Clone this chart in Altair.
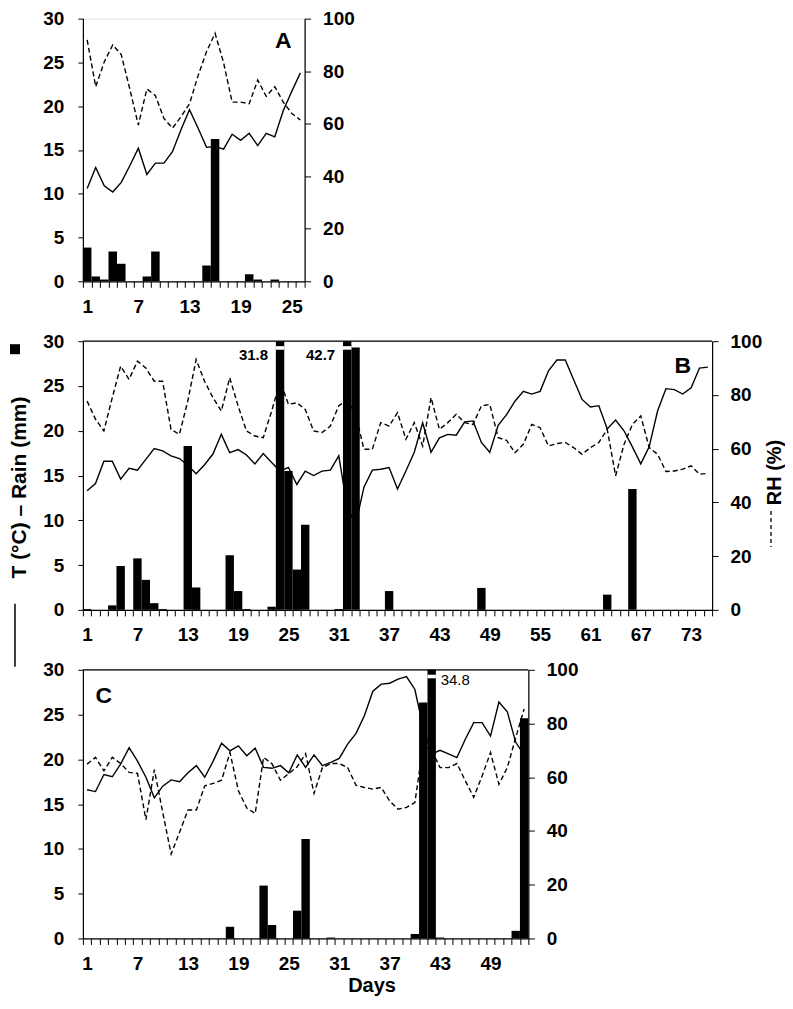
import altair as alt
import pandas as pd

FONT = "Liberation Sans"

# ---------------- Panel A (26 days) ----------------
A_days = list(range(1, 27))
A_temp = [10.6, 13.0, 10.9, 10.2, 11.3, 13.2, 15.2, 12.2, 13.5, 13.5, 14.8, 17.3, 19.6,
          17.5, 15.3, 15.4, 15.1, 16.8, 16.1, 16.9, 15.5, 16.9, 16.5, 19.5, 21.7, 23.8]
A_rh = [91.9, 74.1, 83.5, 90.0, 86.3, 73.2, 59.5, 73.2, 70.7, 62.0, 58.3, 62.6, 67.6,
        78.2, 87.5, 94.4, 83.2, 68.2, 68.2, 67.6, 76.6, 70.4, 74.1, 68.2, 63.9, 61.4]
A_rain = [3.85, 0.55, 0.2, 3.4, 2.0, 0, 0, 0.55, 3.4, 0, 0, 0, 0,
          0, 1.8, 16.25, 0, 0, 0, 0.8, 0.2, 0, 0.2, 0, 0, 0]

# ---------------- Panel B (75 days) ----------------
B_days = list(range(1, 76))
B_temp = [13.3, 14.1, 16.6, 16.6, 14.6, 15.8, 15.6, 16.8, 18.0, 17.75, 17.2, 16.9, 16.15,
          15.2, 16.2, 17.4, 19.6, 17.55, 17.9, 17.3, 16.3, 17.45, 16.45, 15.5, 15.9, 14.0,
          15.5, 15.0, 15.5, 15.6, 17.2, 11.5, 9.5, 13.7, 15.6, 15.7, 15.9, 13.5, 15.5,
          17.6, 20.9, 17.6, 19.2, 19.6, 19.5, 21.0, 21.1, 18.7, 17.6, 20.6, 21.8, 23.3,
          24.4, 24.1, 24.4, 26.7, 27.9, 27.9, 25.7, 23.5, 22.65, 22.8, 20.2, 21.2, 20.0,
          18.2, 16.3, 18.2, 22.2, 24.7, 24.6, 24.1, 24.8, 27.0, 27.1]
B_rh = [77.7, 71.0, 66.6, 79.0, 90.7, 85.8, 92.6, 90.0, 85.1, 85.1, 67.2, 65.3, 77.7,
        93.2, 85.1, 79.0, 74.0, 86.4, 75.9, 66.6, 64.7, 64.1, 74.0, 85.1, 76.5, 77.1,
        74.6, 66.6, 66.0, 68.4, 76.0, 78.0, 72.8, 59.8, 59.8, 69.7, 68.4, 73.4, 63.5,
        69.7, 61.0, 79.0, 67.2, 69.7, 72.8, 69.7, 69.0, 75.9, 76.5, 64.1, 63.1, 58.5,
        61.6, 69.0, 67.8, 61.0, 61.9, 62.3, 60.4, 57.9, 60.4, 62.3, 67.2, 49.9, 61.6,
        69.0, 72.2, 60.4, 57.9, 51.5, 51.7, 52.4, 53.6, 50.5, 50.8]
B_rain = [0.1, 0, 0, 0.5, 4.9, 0, 5.75, 3.35, 0.75, 0.1, 0, 0, 18.3,
          2.5, 0, 0, 0, 6.1, 2.1, 0.1, 0, 0, 0.35, 31.8, 15.5, 4.5,
          9.5, 0, 0, 0, 0.1, 42.7, 29.3, 0, 0, 0, 2.1, 0, 0,
          0, 0, 0, 0, 0, 0, 0, 0, 2.45, 0, 0, 0, 0,
          0, 0, 0, 0, 0, 0, 0, 0, 0, 0, 1.7, 0, 0,
          13.5, 0, 0, 0, 0, 0, 0, 0, 0, 0]

# ---------------- Panel C (53 days) ----------------
C_days = list(range(1, 54))
C_temp = [16.6, 16.4, 18.3, 18.05, 19.5, 21.3, 19.8, 18.0, 15.7, 17.0, 17.7, 17.5, 18.5,
          19.3, 18.0, 19.8, 21.8, 20.95, 21.5, 20.4, 21.25, 19.1, 19.0, 19.3, 18.5, 20.5,
          19.1, 20.5, 19.3, 19.65, 20.1, 21.7, 22.9, 24.9, 27.6, 28.4, 28.5, 28.95, 29.25,
          27.8, 23.5, 20.6, 21.0, 20.6, 20.2, 22.25, 24.1, 24.1, 22.6, 26.4, 25.3, 21.9, 20.5]
C_rh = [64.9, 67.4, 62.4, 67.4, 65.1, 61.8, 61.4, 44.2, 62.8, 46.9, 31.4, 39.5, 47.8,
        47.8, 56.8, 57.7, 58.9, 69.2, 55.0, 48.5, 46.5, 67.4, 65.0, 58.9, 61.4, 63.9,
        68.8, 54.0, 63.6, 65.1, 65.1, 63.6, 57.0, 56.2, 55.6, 56.2, 51.2, 48.1, 48.8,
        50.6, 72.0, 70.0, 63.6, 63.6, 65.1, 58.7, 52.5, 60.5, 69.2, 57.4, 63.6, 74.8, 85.4]
C_rain = [0, 0, 0, 0, 0, 0, 0, 0, 0, 0, 0, 0, 0,
          0, 0, 0, 0, 1.3, 0, 0, 0, 5.9, 1.5, 0, 0, 3.1,
          11.1, 0, 0, 0.1, 0, 0, 0, 0, 0, 0, 0, 0, 0,
          0.5, 26.35, 34.8, 0.1, 0, 0, 0, 0, 0, 0, 0, 0, 0.85, 24.6]

# Off-scale rain annotations (day, label)
B_note_days = [24, 32]
B_note_labels = ["31.8", "42.7"]
C_note_days = [42]
C_note_labels = ["34.8"]

# Panel letters (day, height in mm)
PANEL_LETTERS = {"A": (24, 27.4), "B": (72, 27.2), "C": (3, 27.1)}

LEFT_TICKS = [0, 5, 10, 15, 20, 25, 30]
RIGHT_TICKS = [0, 20, 40, 60, 80, 100]

LBL = dict(labelFont=FONT, labelFontSize=19, labelFontWeight="bold", labelColor="black")
TTL = dict(titleFont=FONT, titleFontSize=20, titleFontWeight="bold", titleColor="black")


def make_panel(name, days, temp, rh, rain, w, h, note_days=None, note_labels=None,
               note_y=28.5, note_align="right", note_dx=-12, note_weight="bold",
               top_rule=False, left_title=None, right_title=None, x_title=None):
    df = pd.DataFrame({"day": days, "temp": temp, "rh": rh, "rain": rain})

    xkw = dict(labelExpr="(datum.value - 1) % 6 == 0 ? datum.label : ''",
               labelAngle=0, labelOverlap=False, tickBand="extent", tickSize=6,
               tickColor="black", domainColor="black", domainWidth=1.2,
               labelPadding=10, grid=False, title=None, **LBL)
    if x_title:
        xkw.update(title=x_title, titleX=289, titleY=47, titleAlign="center",
                   titleBaseline="middle", **TTL)
    X = alt.X("day:O", scale=alt.Scale(paddingInner=0, paddingOuter=0),
              axis=alt.Axis(**xkw))

    ylkw = dict(orient="left", values=LEFT_TICKS, tickSize=5, labelPadding=14,
                tickColor="black", domainColor="black", domainWidth=1.2,
                grid=False, title=None, **LBL)
    if left_title:
        ylkw.update(title=left_title, titleAngle=270, titleX=-63, titleY=146,
                    titleAlign="center", titleBaseline="middle",
                    titleFont=FONT, titleFontSize=21, titleFontWeight="bold",
                    titleColor="black")
    YL = alt.Axis(**ylkw)

    yrkw = dict(orient="right", values=RIGHT_TICKS, tickSize=6, labelPadding=12,
                tickColor="black", domainColor="black", domainWidth=1.2,
                grid=False, title=None, **LBL)
    if right_title:
        yrkw.update(title=right_title, titleAngle=270, titleX=62, titleY=131,
                    titleAlign="center", titleBaseline="middle", **TTL)
    YR = alt.Axis(**yrkw)

    ysc = alt.Scale(domain=[0, 30], nice=False, zero=True)
    rsc = alt.Scale(domain=[0, 100], nice=False, zero=True)

    base = alt.Chart(df)
    temp_line = base.mark_line(color="black", strokeWidth=1.4).encode(
        x=X, y=alt.Y("temp:Q", scale=ysc, axis=YL))
    bars = base.transform_calculate(rain_c="min(datum.rain, 30)").mark_bar(
        color="black").encode(x=X, y=alt.Y("rain_c:Q", scale=ysc, axis=YL))

    lx, ly = PANEL_LETTERS[name]
    letter = alt.Chart(pd.DataFrame({"day": [lx], "y": [ly], "t": [name]})).mark_text(
        font=FONT, fontSize=23, fontWeight="bold", color="black").encode(
        x=X, y=alt.Y("y:Q", scale=ysc, axis=YL), text="t:N")

    left_layers = [temp_line, bars, letter]

    if note_days:
        nd = pd.DataFrame({"day": note_days, "label": note_labels,
                           "lo": [29.05] * len(note_days), "hi": [29.45] * len(note_days),
                           "ty": [note_y] * len(note_days)})
        nbase = alt.Chart(nd)
        breaks = nbase.mark_bar(color="white").encode(
            x=X, y=alt.Y("lo:Q", scale=ysc, axis=YL), y2="hi:Q")
        ntext = nbase.mark_text(font=FONT, fontSize=15, fontWeight=note_weight,
                                align=note_align, dx=note_dx, baseline="middle",
                                color="black").encode(
            x=X, y=alt.Y("ty:Q", scale=ysc, axis=YL), text="label:N")
        left_layers += [breaks, ntext]

    if top_rule:
        left_layers.append(
            alt.Chart(pd.DataFrame({"y": [30]})).mark_rule(color="black", strokeWidth=1.2)
            .encode(y=alt.Y("y:Q", scale=ysc, axis=YL)))

    if left_title:
        sym = alt.Chart(pd.DataFrame({"s": [1]}))
        left_layers.append(sym.mark_square(size=100, color="black", opacity=1).encode(
            x=alt.value(-68), y=alt.value(8)))
        left_layers.append(sym.mark_rule(color="black", strokeWidth=1.5).encode(
            x=alt.value(-68), y=alt.value(263), y2=alt.value(326)))
    if right_title:
        sym = alt.Chart(pd.DataFrame({"s": [1]}))
        left_layers.append(sym.mark_rule(color="black", strokeWidth=1.3,
                                         strokeDash=[4, 3]).encode(
            x=alt.value(w + 59), y=alt.value(170), y2=alt.value(206)))

    rh_line = base.mark_line(color="black", strokeWidth=1.4, strokeDash=[5, 3]).encode(
        x=X, y=alt.Y("rh:Q", scale=rsc, axis=YR))

    return (alt.layer(rh_line, alt.layer(*left_layers))
            .resolve_scale(y="independent")
            .properties(width=w, height=h))


pA = make_panel("A", A_days, A_temp, A_rh, A_rain, 222, 263)
pB = make_panel("B", B_days, B_temp, B_rh, B_rain, 630, 269,
                note_days=B_note_days, note_labels=B_note_labels, note_y=28.5,
                note_align="right", note_dx=-12, top_rule=True,
                left_title="T (°C)  –  Rain (mm)", right_title="RH (%)")
pC = make_panel("C", C_days, C_temp, C_rh, C_rain, 446, 269,
                note_days=C_note_days, note_labels=C_note_labels, note_y=28.9,
                note_align="left", note_dx=9, note_weight="normal", top_rule=True,
                x_title="Days")

chart = (alt.vconcat(pA, pB, pC, spacing=60, bounds="flush")
         .properties(padding={"left": 0, "top": 0, "right": 0, "bottom": 0})
         .configure_view(stroke=None)
         .configure(background="white"))

chart.save("out.html", embed_options={"renderer": "svg", "actions": False})
